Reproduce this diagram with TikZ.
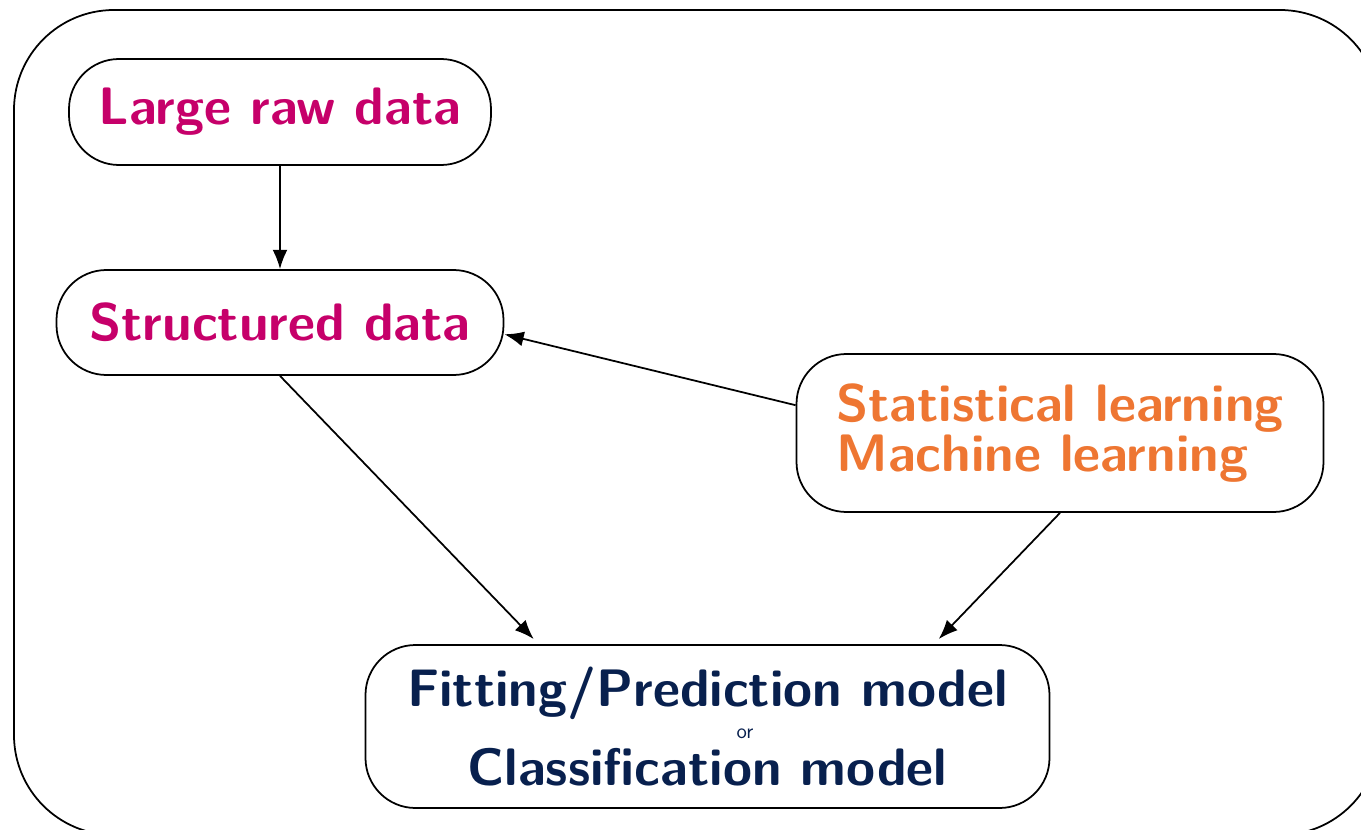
\documentclass[tikz,border=0pt]{standalone}
\usepackage{fontspec}
\usetikzlibrary{arrows.meta}

\tikzstyle{block} = [draw, rectangle, rounded corners=1cm, line width=1pt, align=center, font=\sffamily\bfseries\fontsize{30}{28}\selectfont]
\tikzstyle{arrow} = [draw, line width=1pt, -{Latex[length=11pt, width=8.5pt]}]
\tikzstyle{frame} = [draw, line width=1pt, rounded corners=2cm]
\definecolor{magenta1}{RGB}{198,0,106}
\definecolor{orange1}{RGB}{238,118,50}
\definecolor{navy1}{RGB}{8,32,78}

\begin{document}
\begin{tikzpicture}[node distance=4.21cm, auto]
	\useasboundingbox (-5.6,2.24) rectangle (21.62,-14.36);
	\path [frame] (-5.32,2.04) rectangle (22.0,-14.46);

	\node [block, text=magenta1, minimum width=8.44cm, minimum height=2.12cm] (raw) at (0,0) {Large raw data};
	\node [block, text=magenta1, minimum width=8.94cm, minimum height=2.1cm, below of=raw] (struct) {Structured data};
	\node [block, text=orange1, align=left, minimum width=10.54cm, minimum height=3.16cm, right of=struct, node distance=15.6cm, yshift=-2.21cm] (stat) {Statistical learning\\Machine learning};
	\node [block, text=navy1, minimum width=13.68cm, minimum height=3.26cm, below of=struct, node distance=8.08cm, xshift=8.55cm] (fit) {Fitting/Prediction model\\[-10pt]{\mdseries\fontsize{12}{12}\selectfont\hspace*{1.5cm}or}\\[-1pt]Classification model};

	\draw [arrow] (raw.south) to (struct.north);
	\draw [arrow] (stat.174) to (struct.-3);

	% into the model
	\draw [arrow, shorten >=4pt] (struct.south) to (fit.154);
	\draw [arrow, shorten >=4pt] (stat.south) to (fit.20);
\end{tikzpicture}
\end{document}
